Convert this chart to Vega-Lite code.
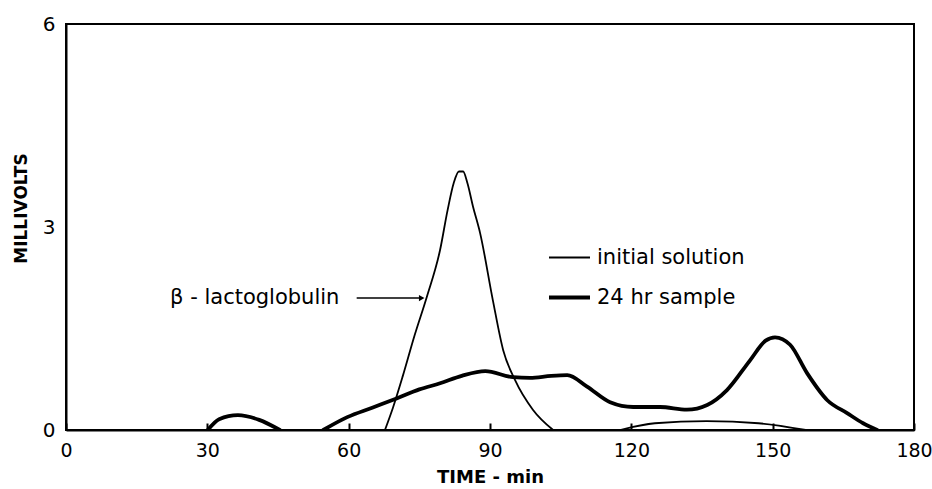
{
  "$schema": "https://vega.github.io/schema/vega-lite/v6.json",
  "width": 848,
  "height": 406,
  "autosize": "none",
  "padding": {"left": 66, "top": 24, "right": 18, "bottom": 59},
  "background": "white",
  "config": {
    "font": "DejaVu Sans",
    "view": {"stroke": "black", "strokeWidth": 2},
    "axis": {"domainColor": "black", "domainWidth": 2, "grid": false, "labelColor": "black", "titleColor": "black", "labelFont": "DejaVu Sans", "titleFont": "DejaVu Sans"}
  },
  "datasets": {
    "curves": [
      {"series": "initial solution", "seg": "a", "t": 67.7, "mv": 0},
      {"series": "initial solution", "seg": "a", "t": 69.4, "mv": 0.33},
      {"series": "initial solution", "seg": "a", "t": 71.5, "mv": 0.8},
      {"series": "initial solution", "seg": "a", "t": 74, "mv": 1.4},
      {"series": "initial solution", "seg": "a", "t": 76.6, "mv": 1.97},
      {"series": "initial solution", "seg": "a", "t": 79.4, "mv": 2.66},
      {"series": "initial solution", "seg": "a", "t": 81, "mv": 3.25},
      {"series": "initial solution", "seg": "a", "t": 82.3, "mv": 3.65},
      {"series": "initial solution", "seg": "a", "t": 83.4, "mv": 3.82},
      {"series": "initial solution", "seg": "a", "t": 84.3, "mv": 3.82},
      {"series": "initial solution", "seg": "a", "t": 85.2, "mv": 3.65},
      {"series": "initial solution", "seg": "a", "t": 86.4, "mv": 3.3},
      {"series": "initial solution", "seg": "a", "t": 87.9, "mv": 2.91},
      {"series": "initial solution", "seg": "a", "t": 90.6, "mv": 1.92},
      {"series": "initial solution", "seg": "a", "t": 92.8, "mv": 1.18},
      {"series": "initial solution", "seg": "a", "t": 95.3, "mv": 0.74},
      {"series": "initial solution", "seg": "a", "t": 99.1, "mv": 0.3},
      {"series": "initial solution", "seg": "a", "t": 103.4, "mv": 0},
      {"series": "initial solution", "seg": "b", "t": 117.6, "mv": 0},
      {"series": "initial solution", "seg": "b", "t": 125, "mv": 0.1},
      {"series": "initial solution", "seg": "b", "t": 136, "mv": 0.13},
      {"series": "initial solution", "seg": "b", "t": 147, "mv": 0.1},
      {"series": "initial solution", "seg": "b", "t": 157, "mv": 0},
      {"series": "24 hr sample", "seg": "c", "t": 30.1, "mv": 0},
      {"series": "24 hr sample", "seg": "c", "t": 32.5, "mv": 0.16},
      {"series": "24 hr sample", "seg": "c", "t": 36.5, "mv": 0.22},
      {"series": "24 hr sample", "seg": "c", "t": 41, "mv": 0.15},
      {"series": "24 hr sample", "seg": "c", "t": 45.4, "mv": 0},
      {"series": "24 hr sample", "seg": "d", "t": 54.6, "mv": 0},
      {"series": "24 hr sample", "seg": "d", "t": 59.7, "mv": 0.19},
      {"series": "24 hr sample", "seg": "d", "t": 65, "mv": 0.33},
      {"series": "24 hr sample", "seg": "d", "t": 70.3, "mv": 0.47},
      {"series": "24 hr sample", "seg": "d", "t": 75, "mv": 0.6},
      {"series": "24 hr sample", "seg": "d", "t": 79.4, "mv": 0.69},
      {"series": "24 hr sample", "seg": "d", "t": 84, "mv": 0.8},
      {"series": "24 hr sample", "seg": "d", "t": 89, "mv": 0.87},
      {"series": "24 hr sample", "seg": "d", "t": 94.9, "mv": 0.78},
      {"series": "24 hr sample", "seg": "d", "t": 98.5, "mv": 0.77},
      {"series": "24 hr sample", "seg": "d", "t": 103, "mv": 0.8},
      {"series": "24 hr sample", "seg": "d", "t": 106.4, "mv": 0.81},
      {"series": "24 hr sample", "seg": "d", "t": 110.6, "mv": 0.64},
      {"series": "24 hr sample", "seg": "d", "t": 115.5, "mv": 0.41},
      {"series": "24 hr sample", "seg": "d", "t": 120.4, "mv": 0.34},
      {"series": "24 hr sample", "seg": "d", "t": 126.1, "mv": 0.34},
      {"series": "24 hr sample", "seg": "d", "t": 131.8, "mv": 0.3},
      {"series": "24 hr sample", "seg": "d", "t": 136.1, "mv": 0.37},
      {"series": "24 hr sample", "seg": "d", "t": 140.3, "mv": 0.59},
      {"series": "24 hr sample", "seg": "d", "t": 145.2, "mv": 1.03},
      {"series": "24 hr sample", "seg": "d", "t": 148.5, "mv": 1.32},
      {"series": "24 hr sample", "seg": "d", "t": 150.5, "mv": 1.37},
      {"series": "24 hr sample", "seg": "d", "t": 153.7, "mv": 1.26},
      {"series": "24 hr sample", "seg": "d", "t": 157.3, "mv": 0.84},
      {"series": "24 hr sample", "seg": "d", "t": 161.6, "mv": 0.44},
      {"series": "24 hr sample", "seg": "d", "t": 165.8, "mv": 0.25},
      {"series": "24 hr sample", "seg": "d", "t": 169.2, "mv": 0.1},
      {"series": "24 hr sample", "seg": "d", "t": 172.2, "mv": 0}
    ],
    "annot": [
      {"label": "β - lactoglobulin", "t": 22.1, "t2": 75.5, "at": 61.7, "mv": 1.95}
    ]
  },
  "layer": [
    {
      "data": {"name": "curves"},
      "mark": {"type": "line", "interpolate": "monotone", "color": "black", "strokeCap": "round", "clip": true},
      "encoding": {
        "x": {"field": "t", "type": "quantitative", "scale": {"domain": [0, 180], "nice": false},
          "axis": {"values": [0, 30, 60, 90, 120, 150, 180], "format": "d", "title": "TIME - min", "titleFontSize": 18, "titleFontWeight": "bold", "titlePadding": 8, "labelFontSize": 19, "labelPadding": 18, "tickSize": -7, "tickColor": "black", "tickWidth": 2, "labelFlush": false}},
        "y": {"field": "mv", "type": "quantitative", "scale": {"domain": [0, 6], "nice": false},
          "axis": {"values": [0, 3, 6], "format": "d", "title": "MILLIVOLTS", "titleFontSize": 17, "titleFontWeight": "bold", "titlePadding": 12, "titleY": 184, "labelFontSize": 20, "labelPadding": 11, "ticks": false, "labelFlush": false}},
        "detail": {"field": "seg"},
        "strokeWidth": {"field": "series", "type": "nominal",
          "scale": {"domain": ["initial solution", "24 hr sample"], "range": [1.8, 3.8]},
          "legend": {"title": null, "orient": "none", "legendX": 481, "legendY": 212, "symbolType": "stroke", "symbolSize": 1681, "symbolStrokeColor": "black", "labelFontSize": 21, "labelColor": "black", "labelOffset": 5, "rowPadding": 7, "padding": 0, "labelFont": "DejaVu Sans"}}
      }
    },
    {
      "data": {"name": "annot"},
      "mark": {"type": "text", "align": "left", "baseline": "middle", "fontSize": 21, "color": "black"},
      "encoding": {"x": {"field": "t", "type": "quantitative"}, "y": {"field": "mv", "type": "quantitative"}, "text": {"field": "label"}}
    },
    {
      "data": {"name": "annot"},
      "mark": {"type": "rule", "color": "black", "strokeWidth": 1.5},
      "encoding": {"x": {"field": "at", "type": "quantitative"}, "x2": {"field": "t2"}, "y": {"field": "mv", "type": "quantitative"}}
    },
    {
      "data": {"name": "annot"},
      "mark": {"type": "point", "shape": "triangle-right", "filled": true, "color": "black", "size": 40, "opacity": 1},
      "encoding": {"x": {"field": "t2", "type": "quantitative"}, "y": {"field": "mv", "type": "quantitative"}}
    }
  ]
}
